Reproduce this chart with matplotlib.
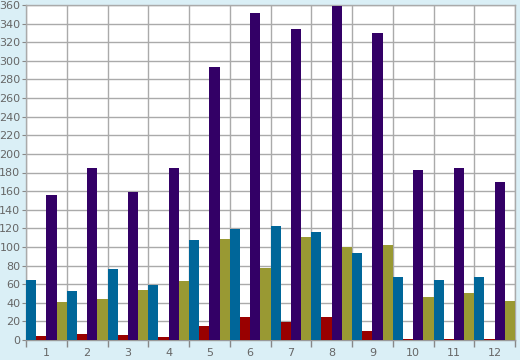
import matplotlib
matplotlib.use("Agg")
import matplotlib.pyplot as plt
import numpy as np

categories = ["1", "2", "3", "4", "5", "6", "7", "8", "9", "10", "11", "12"]
series_blue = [64, 52.5, 76, 59, 107.5, 119, 122.5, 116, 93.5, 67.5, 64.5, 67.5]
series_red = [4.5, 6.5, 5.5, 3.2, 15, 24.7, 19.5, 24.7, 9.7, 0.7, 1.5, 0.7]
series_purple = [155.5, 185, 159, 185, 293, 351.5, 334, 359, 330, 182.7, 185, 170]
series_olive = [41, 44, 53.7, 63.4, 108.5, 77.4, 110.7, 100, 102, 46, 50.5, 42]
yticks = list(range(0, 361, 20))

colors = ["#006699", "#990000", "#330066", "#999933"]
series = [series_blue, series_red, series_purple, series_olive]

fig = plt.figure(figsize=(5.2, 3.6), dpi=100)
fig.patch.set_facecolor("#DAEFF6")
ax = fig.add_axes([26/520, 20/360, 489/520, 335/360])
ax.set_facecolor("white")

x = np.arange(len(categories))
w = 0.25
for k, (vals, c) in enumerate(zip(series, colors)):
    ax.bar(x + (k - 1.5) * w, vals, width=w, color=c, linewidth=0, zorder=3)

ax.set_xlim(-0.5, len(categories) - 0.5)
ax.set_ylim(0, 360)
ax.set_yticks(yticks)
ax.set_yticklabels([str(v) for v in yticks])
ax.set_xticks(x)
ax.set_xticklabels(categories)
ax.set_xticks(np.arange(len(categories) + 1) - 0.5, minor=True)

ax.grid(True, axis="y", which="major", color="#AAAAAA", linewidth=1, zorder=1)
ax.grid(True, axis="x", which="minor", color="#AAAAAA", linewidth=1, zorder=1)
ax.grid(False, axis="x", which="major")

ax.tick_params(axis="x", which="major", length=0, pad=6, labelsize=8, labelcolor="#666666")
ax.tick_params(axis="x", which="minor", length=5, color="#888888", width=1)
ax.tick_params(axis="y", which="major", length=3, color="#888888", pad=1, labelsize=8, labelcolor="#666666")

for s in ax.spines.values():
    s.set_color("#AAAAAA")
    s.set_linewidth(1)
ax.spines["bottom"].set_color("#999999")

fig.savefig("out.png", dpi=100, facecolor=fig.get_facecolor())
